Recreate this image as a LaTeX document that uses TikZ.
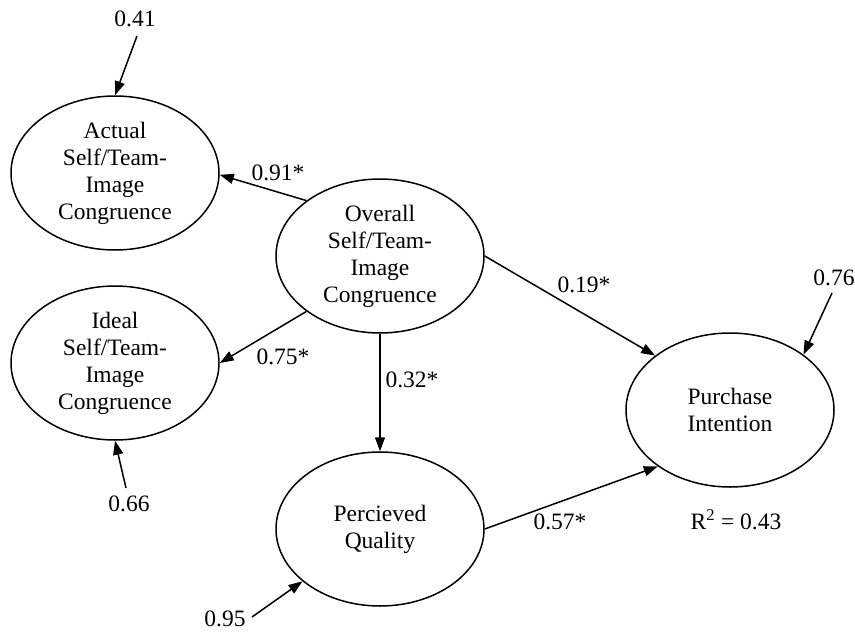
\documentclass[tikz,border=0pt]{standalone}
\usepackage{fontspec}
\setmainfont{Liberation Serif}
\usetikzlibrary{shapes.geometric,arrows.meta}
\tikzset{
  latent/.style={ellipse, draw, line width=1.5pt, minimum width=208pt, minimum height=154pt, inner sep=0pt, align=center, font=\fontsize{23.5}{27}\selectfont},
  lbl/.style={inner sep=0pt, font=\fontsize{23.5}{27}\selectfont},
  path/.style={line width=1.5pt, -{Triangle[length=14pt,width=10pt]}}
}
\begin{document}
\begin{tikzpicture}[x=1pt,y=-1pt]
\useasboundingbox (0,0) rectangle (855,632);
\node[latent] (act) at (115,173) {Actual\\Self/Team-\\Image\\Congruence};
\node[latent] (ov) at (380,256) {Overall\\Self/Team-\\Image\\Congruence};
\node[latent] (id) at (115,363) {Ideal\\Self/Team-\\Image\\Congruence};
\node[latent] (pi) at (730,410) {Purchase\\Intention};
\node[latent] (pq) at (380,529) {Percieved\\Quality};

\coordinate (eact) at (137,36);
\coordinate (eid) at (126,488);
\coordinate (epi) at (832,293);
\coordinate (epq) at (252,617);

\node[lbl] (l41) at (135,19) {0.41};
\node[lbl] (l66) at (129,504) {0.66};
\node[lbl] (l76) at (834,278) {0.76};
\node[lbl] (l95) at (225,619) {0.95};
\node[lbl] (l91) at (278,173) {0.91*};
\node[lbl] (l75) at (283,357) {0.75*};
\node[lbl] (l32) at (412,380) {0.32*};
\node[lbl] (l19) at (584,285) {0.19*};
\node[lbl] (l57) at (560,522) {0.57*};
\node[lbl] (r2) at (736,520) {R\textsuperscript{2} = 0.43};

\draw[path] (eact) -- (act.north);
\draw[path] (eid) -- (id.south);
\draw[path] (epi) -- (pi.37);
\draw[path] (epq) -- (pq.214);
\draw[path] (ov.143) -- (act.-1);
\draw[path] (ov.217) -- (id.east);
\draw[path] (ov.south) -- (pq.north);
\draw[path] (ov.east) -- (pi.144);
\draw[path] (pq.east) -- (pi.218);
\end{tikzpicture}
\end{document}
